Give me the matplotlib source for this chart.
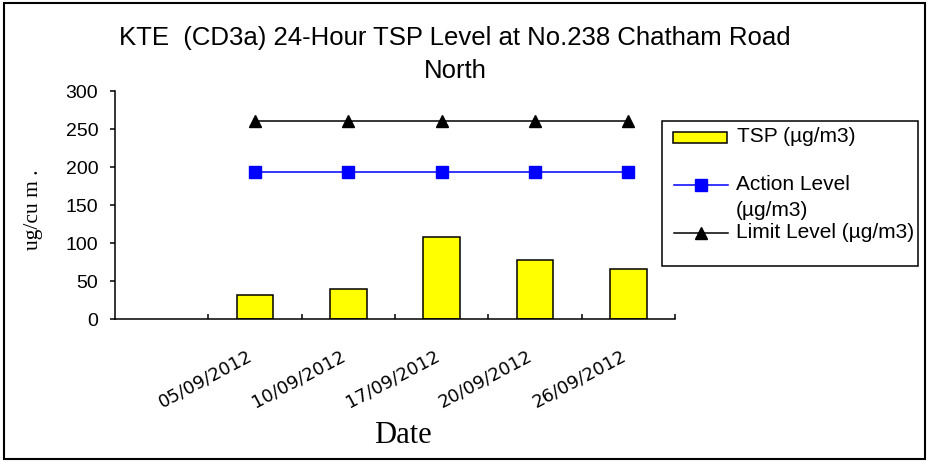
import matplotlib
matplotlib.use('Agg')
import numpy as np
import matplotlib.pyplot as plt
import matplotlib.transforms as mtransforms
from matplotlib.patches import Rectangle
from matplotlib.lines import Line2D

# data
dates = ['05/09/2012', '10/09/2012', '17/09/2012', '20/09/2012', '26/09/2012']
tsp = [32, 40, 108, 77, 66]
action_level = [193, 193, 193, 193, 193]
limit_level = [260, 260, 260, 260, 260]
yticks = [0, 50, 100, 150, 200, 250, 300]

W, H = 927, 462
def fx(px):
    return px / W
def fy(py):
    return 1 - py / H

fig = plt.figure(figsize=(W / 100, H / 100), dpi=100)
ax = fig.add_axes([fx(115), fy(319), fx(675) - fx(115), fy(91) - fy(319)])

# first category slot stays empty, dates start at slot 1
x = np.arange(1, len(dates) + 1)

ax.bar(x, tsp, width=0.39, color='#FFFF00', edgecolor='black', linewidth=1.1, zorder=2)
ax.plot(x, action_level, color='#0000FF', lw=1.1, marker='s', ms=8, zorder=3)
ax.plot(x, limit_level, color='black', lw=1.1, marker='^', ms=8, zorder=3)

ax.set_xlim(-0.5, len(dates) + 0.5)
ax.set_ylim(0, 300)
ax.set_yticks(yticks)
ax.tick_params(axis='y', direction='out', length=3.6, width=1.1, pad=8.5,
               labelsize=14)
for lbl in ax.get_yticklabels():
    lbl.set_family('Liberation Sans')

# slot boundaries as ticks, date labels at slot centres
ax.set_xticks(np.arange(0.5, len(dates) + 1, 1))
ax.set_xticklabels([])
ax.tick_params(axis='x', which='major', direction='in', length=3.6, width=1.1)
ax.set_xticks(x, minor=True)
ax.set_xticklabels(dates, minor=True, rotation=28, ha='right', va='top',
                   rotation_mode='anchor', family='DejaVu Sans', fontsize=13)
ax.tick_params(axis='x', which='minor', length=0, pad=20)
shift = mtransforms.ScaledTranslation(-8 / 100, 0, fig.dpi_scale_trans)
for lbl in ax.get_xticklabels(minor=True):
    lbl.set_transform(lbl.get_transform() + shift)

for s in ['top', 'right']:
    ax.spines[s].set_visible(False)
for s in ['left', 'bottom']:
    ax.spines[s].set_linewidth(1.1)

ax.set_ylabel('ug/cu m .', family='Liberation Serif', fontsize=15.5)
ax.yaxis.set_label_coords((43 - 115) / 560, (319 - 210) / 228)
ax.set_xlabel('Date', family='Liberation Serif', fontsize=22)
ax.xaxis.set_label_coords((403 - 115) / 560, (319 - 421) / 228)

# title
fig.text(fx(455), fy(38), 'KTE  (CD3a) 24-Hour TSP Level at No.238 Chatham Road',
         ha='center', va='center', family='Liberation Sans', fontsize=18.5)
fig.text(fx(455), fy(71), 'North', ha='center', va='center',
         family='Liberation Sans', fontsize=18.5)

# legend box
fig.add_artist(Rectangle((fx(662), fy(266)), fx(918) - fx(662), fy(121) - fy(266),
                         transform=fig.transFigure, fill=False, ec='black', lw=1.1))
fig.add_artist(Rectangle((fx(673), fy(143)), fx(727) - fx(673), fy(132) - fy(143),
                         transform=fig.transFigure, fc='#FFFF00', ec='black', lw=1.1))
fig.add_artist(Line2D([fx(674), fx(728)], [fy(185), fy(185)], transform=fig.transFigure,
                      color='#0000FF', lw=1.1))
fig.add_artist(Line2D([fx(701)], [fy(185)], transform=fig.transFigure,
                      color='#0000FF', marker='s', ms=8))
fig.add_artist(Line2D([fx(674), fx(728)], [fy(233), fy(233)], transform=fig.transFigure,
                      color='black', lw=1.1))
fig.add_artist(Line2D([fx(701)], [fy(233)], transform=fig.transFigure,
                      color='black', marker='^', ms=8))
leg_font = dict(family='Liberation Sans', fontsize=15, va='center', ha='left')
fig.text(fx(737), fy(136), 'TSP (µg/m3)', **leg_font)
fig.text(fx(736), fy(185), 'Action Level', **leg_font)
fig.text(fx(736), fy(211), '(µg/m3)', **leg_font)
fig.text(fx(736), fy(233), 'Limit Level (µg/m3)', **leg_font)

# outer frame
fig.add_artist(Rectangle((fx(4), fy(459)), fx(925) - fx(4), fy(3) - fy(459),
                         transform=fig.transFigure, fill=False, ec='black', lw=1.5))

fig.savefig('out.png', dpi=100)
